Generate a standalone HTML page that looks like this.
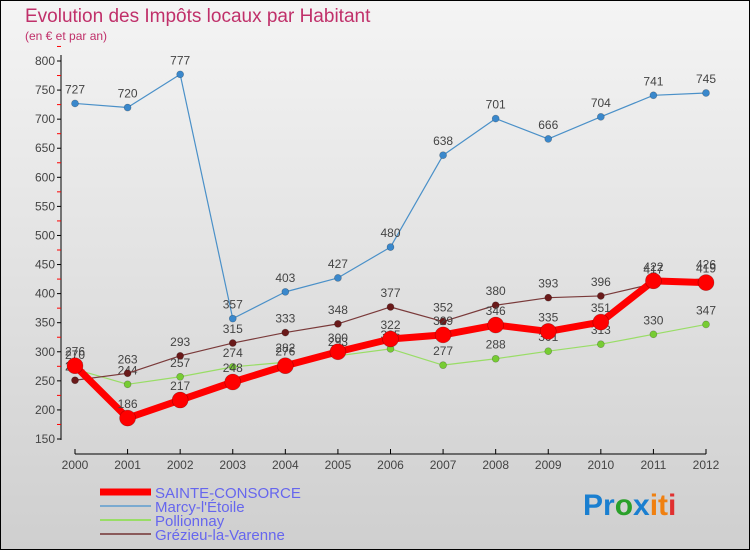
<!DOCTYPE html>
<html><head><meta charset="utf-8"><style>
body{margin:0;width:750px;height:550px;overflow:hidden;font-family:"Liberation Sans",sans-serif}
svg text{font-family:"Liberation Sans",sans-serif}
</style></head><body>
<svg id="c" width="750" height="550" viewBox="0 0 750 550">
<defs><linearGradient id="bg" x1="0" y1="0" x2="0" y2="1"><stop offset="0" stop-color="#f4f4f4"/><stop offset="1" stop-color="#cfcfcf"/></linearGradient></defs>
<rect x="0.5" y="0.5" width="749" height="549" fill="url(#bg)" stroke="#000"/>
<text x="25" y="22" font-size="19" fill="#c0306a">Evolution des Impôts locaux par Habitant</text>
<text x="25" y="40" font-size="12" fill="#c0306a">(en € et par an)</text>
<g id="axes"></g><g id="series"></g><g id="legend"></g>
<text x="583" y="515" font-size="30" font-weight="bold"><tspan fill="#1a7fd0">Pr</tspan><tspan fill="#2aa02a">o</tspan><tspan fill="#1a7fd0">x</tspan><tspan fill="#f08010">it</tspan><tspan fill="#e03030">i</tspan></text>
</svg>
<script>
const years=[2000,2001,2002,2003,2004,2005,2006,2007,2008,2009,2010,2011,2012];
const yTicks=[150,200,250,300,350,400,450,500,550,600,650,700,750,800];
const sainte=[276,186,217,248,276,300,322,329,346,335,351,422,419];
const marcy=[727,720,777,357,403,427,480,638,701,666,704,741,745];
const pollionnay=[270,244,257,274,282,293,305,277,288,301,313,330,347];
const grezieu=[251,263,293,315,333,348,377,352,380,393,396,417,426];
const names=["SAINTE-CONSORCE","Marcy-l'Étoile","Pollionnay","Grézieu-la-Varenne"];
const NS="http://www.w3.org/2000/svg";
const xs=i=>75+i*(631/12);
const ys=v=>439-(v-150)*(378/650);
function mk(t,a,p){const e=document.createElementNS(NS,t);for(const k in a)e.setAttribute(k,a[k]);p.appendChild(e);return e;}
const ax=document.getElementById('axes');
const yl=mk('line',{x1:61,y1:55,x2:61,y2:440,stroke:'#000'},ax);


yTicks.forEach(v=>{mk('line',{x1:57,y1:ys(v),x2:61,y2:ys(v),stroke:'#000'},ax);
 mk('line',{x1:57,y1:ys(v+25),x2:61,y2:ys(v+25),stroke:'#f00'},ax);
 const t=mk('text',{x:55,y:ys(v)+4,'font-size':12,fill:'#444','text-anchor':'end'},ax);t.textContent=v;
 
 });
const xl=mk('line',{x1:75,y1:454,x2:706,y2:454,stroke:'#000'},ax);


years.forEach((y,i)=>{mk('line',{x1:xs(i),y1:449,x2:xs(i),y2:454,stroke:'#000'},ax);
 const t=mk('text',{x:xs(i),y:469,'font-size':12,fill:'#444','text-anchor':'middle'},ax);t.textContent=y;
 
 });
const sg=document.getElementById('series');
const defs=[[marcy,'#4a90c8','#3a88cc',1.2,3.5,'marcy'],[pollionnay,'#99dd66','#77cc33',1.2,3.5,'pollionnay'],[grezieu,'#7a3a3a','#6a1a1a',1.2,3.5,'grezieu'],[sainte,'#f00','#f00',7,8,'sainte-consorce']];
defs.forEach(([d,lc,dc,w,r,n])=>{
 const g=mk('g',{},sg);
 
 
 const p=mk('polyline',{points:d.map((v,i)=>xs(i)+','+ys(v)).join(' '),fill:'none',stroke:lc,'stroke-width':w,'stroke-linejoin':'round'},g);
 
 
 d.forEach((v,i)=>{const c=mk('circle',{cx:xs(i),cy:ys(v),r:r,fill:dc,stroke:'rgba(0,0,0,0.3)','stroke-width':0.6},g);
  
  
  const t=mk('text',{x:xs(i),y:ys(v)-10,'font-size':12,fill:'#444','text-anchor':'middle'},g);t.textContent=v;
  
  });
});
const lg=document.getElementById('legend');
const lc=[['#f00',7],['#7aaad0',2],['#99dd66',2],['#8a5a5a',2]];
names.forEach((n,i)=>{const y=492+i*14;
 const l=mk('line',{x1:100,y1:y,x2:151,y2:y,stroke:lc[i][0],'stroke-width':lc[i][1]},lg);
 
 
 const t=mk('text',{x:155,y:y+6,'font-size':15,fill:'#6666ee'},lg);t.textContent=n;
 
 });
</script>
</body></html>
